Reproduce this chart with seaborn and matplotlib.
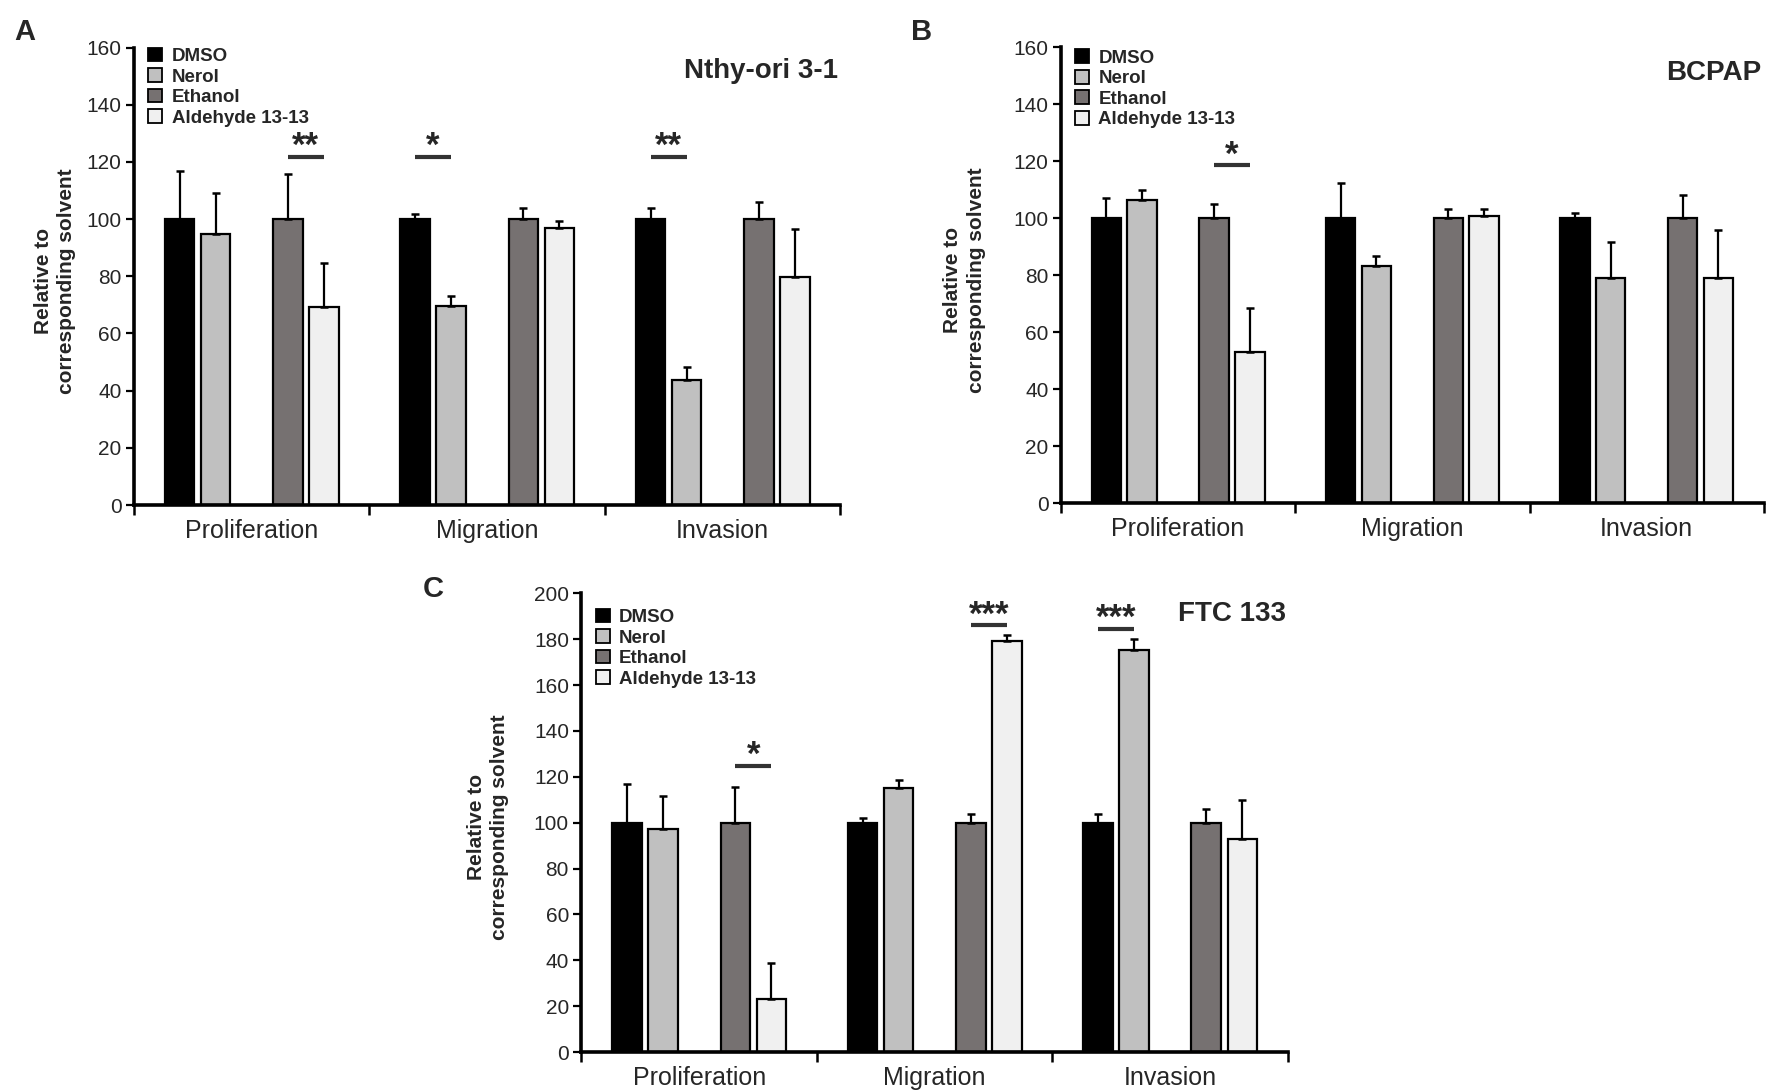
import matplotlib
matplotlib.use('Agg')
import matplotlib.pyplot as plt
from matplotlib.patches import Patch
import numpy as np
import pandas as pd
import seaborn as sns

sns.set_theme(style='white')
plt.rcParams['font.family'] = ['Liberation Sans', 'DejaVu Sans']

assays = ['Proliferation', 'Migration', 'Invasion']
treatments = ['DMSO', 'Nerol', 'Ethanol', 'Aldehyde 13-13']
colors = ['#000000', '#c0c0c0', '#767171', '#f0f0f0']

# mean values per treatment (rows) and assay (columns), upper error only
nthy_means = [[100, 100, 100], [94.8, 69.6, 43.8], [100, 100, 100], [69.2, 96.8, 79.6]]
nthy_err = [[16.7, 1.8, 3.9], [14.2, 3.4, 4.6], [15.7, 3.9, 5.8], [15.6, 2.5, 16.9]]
bcpap_means = [[100, 100, 100], [106.5, 83.4, 79.0], [100, 100, 100], [53.0, 100.7, 79.0]]
bcpap_err = [[7.0, 12.5, 2.0], [3.5, 3.5, 12.6], [5.2, 3.3, 8.2], [15.7, 2.6, 17.0]]
ftc_means = [[100, 100, 100], [97.2, 115.1, 175.5], [100, 100, 100], [23.1, 179.4, 92.9]]
ftc_err = [[16.8, 2.0, 4.0], [14.4, 3.4, 4.6], [15.6, 4.0, 5.9], [15.6, 2.6, 17.1]]

# significance bars: (assay index, first treatment, second treatment, height, label)
nthy_sig = [(0, 'Ethanol', 'Aldehyde 13-13', 121.7, '**'),
            (1, 'DMSO', 'Nerol', 121.7, '*'),
            (2, 'DMSO', 'Nerol', 121.7, '**')]
bcpap_sig = [(0, 'Ethanol', 'Aldehyde 13-13', 118.6, '*')]
ftc_sig = [(0, 'Ethanol', 'Aldehyde 13-13', 124.8, '*'),
           (1, 'Ethanol', 'Aldehyde 13-13', 186.0, '***'),
           (2, 'DMSO', 'Nerol', 184.6, '***')]


def make_frame(means, errs):
    rows = []
    for t, name in enumerate(treatments):
        for a, assay in enumerate(assays):
            rows.append({'assay': assay, 'treatment': name,
                         'value': means[t][a], 'err': errs[t][a]})
    return pd.DataFrame(rows)


def panel(ax, means, errs, sig, ymax, title, letter, label_x, legend_y, title_y):
    df = make_frame(means, errs)
    # empty slot between the two solvent pairs
    hue_order = ['DMSO', 'Nerol', '_gap', 'Ethanol', 'Aldehyde 13-13']
    palette = dict(zip(treatments, colors))
    palette['_gap'] = 'white'
    sns.barplot(data=df, x='assay', y='value', hue='treatment', hue_order=hue_order,
                order=assays, palette=palette, width=0.766, gap=0.18,
                edgecolor='black', linewidth=1.6, errorbar=None, legend=False,
                saturation=1, ax=ax)

    # bar containers come out in hue order, the empty slot gives none
    bar_sets = [c for c in ax.containers if len(c) == len(assays)]
    centers = {}
    for name, cont in zip(treatments, bar_sets):
        sub = df[df.treatment == name].set_index('assay').loc[assays]
        xs = [b.get_x() + b.get_width() / 2 for b in cont]
        centers[name] = xs
        ax.errorbar(xs, sub['value'].values,
                    yerr=[np.zeros(len(xs)), sub['err'].values],
                    fmt='none', ecolor='black', elinewidth=1.6, capsize=2.6,
                    capthick=1.8, zorder=5)

    for a, t1, t2, y, lab in sig:
        x1, x2 = centers[t1][a], centers[t2][a]
        ax.plot([x1, x2], [y, y], color='#333333', lw=3.0, solid_capstyle='butt',
                zorder=6)
        ax.annotate(lab, ((x1 + x2) / 2, y), xytext=(0, 0.5), textcoords='offset points',
                    ha='center', va='baseline', fontsize=25, fontweight='bold')

    ax.set_ylim(0, ymax)
    ax.set_xlim(-0.5, 2.5)
    ax.set_yticks(np.arange(0, ymax + 1, 20))
    ax.set_xticks([-0.5, 0.5, 1.5, 2.5], minor=True)
    ax.tick_params(axis='y', which='major', left=True, length=6, width=1.6,
                   labelsize=15, pad=3, color='black')
    ax.tick_params(axis='x', which='major', bottom=False, labelsize=18, pad=4)
    ax.tick_params(axis='x', which='minor', bottom=True, length=7, width=1.8,
                   color='black')
    for s in ['top', 'right']:
        ax.spines[s].set_visible(False)
    for s in ['left', 'bottom']:
        ax.spines[s].set_color('black')
        ax.spines[s].set_linewidth(2.6)

    ax.set_xlabel('')
    ax.set_ylabel('Relative to\ncorresponding solvent', fontsize=15,
                  fontweight='bold', linespacing=1.3)
    ax.yaxis.set_label_coords(label_x, 0.49)

    handles = [Patch(facecolor=c, edgecolor='black', linewidth=1.3) for c in colors]
    ax.legend(handles, treatments, loc='upper left', bbox_to_anchor=(0.02, legend_y),
              frameon=False, borderpad=0, borderaxespad=0, handlelength=0.75,
              handleheight=0.75, handletextpad=0.5, labelspacing=0.17,
              prop={'size': 13.5, 'weight': 'bold'})

    ax.text(0.997, title_y, title, transform=ax.transAxes, ha='right',
            va='baseline', fontsize=20, fontweight='bold')
    ax.text(letter[0], letter[1], letter[2], transform=ax.figure.transFigure,
            ha='left', va='baseline', fontsize=21, fontweight='bold')


fig = plt.figure(figsize=(17.75, 10.92), dpi=100)
ax_a = fig.add_axes([0.0755, 0.5375, 0.398, 0.419])
ax_b = fig.add_axes([0.5977, 0.539, 0.396, 0.4176])
ax_c = fig.add_axes([0.3276, 0.0366, 0.398, 0.420])

panel(ax_a, nthy_means, nthy_err, nthy_sig, 160, 'Nthy-ori 3-1',
      (0.008, 1 - 40 / 1092, 'A'), -0.082, 1.0, 0.934)
panel(ax_b, bcpap_means, bcpap_err, bcpap_sig, 160, 'BCPAP',
      (0.513, 1 - 40 / 1092, 'B'), -0.107, 0.996, 0.928)
panel(ax_c, ftc_means, ftc_err, ftc_sig, 200, 'FTC 133',
      (0.238, 1 - 597 / 1092, 'C'), -0.102, 0.967, 0.939)

fig.savefig('out.png', dpi=100)
